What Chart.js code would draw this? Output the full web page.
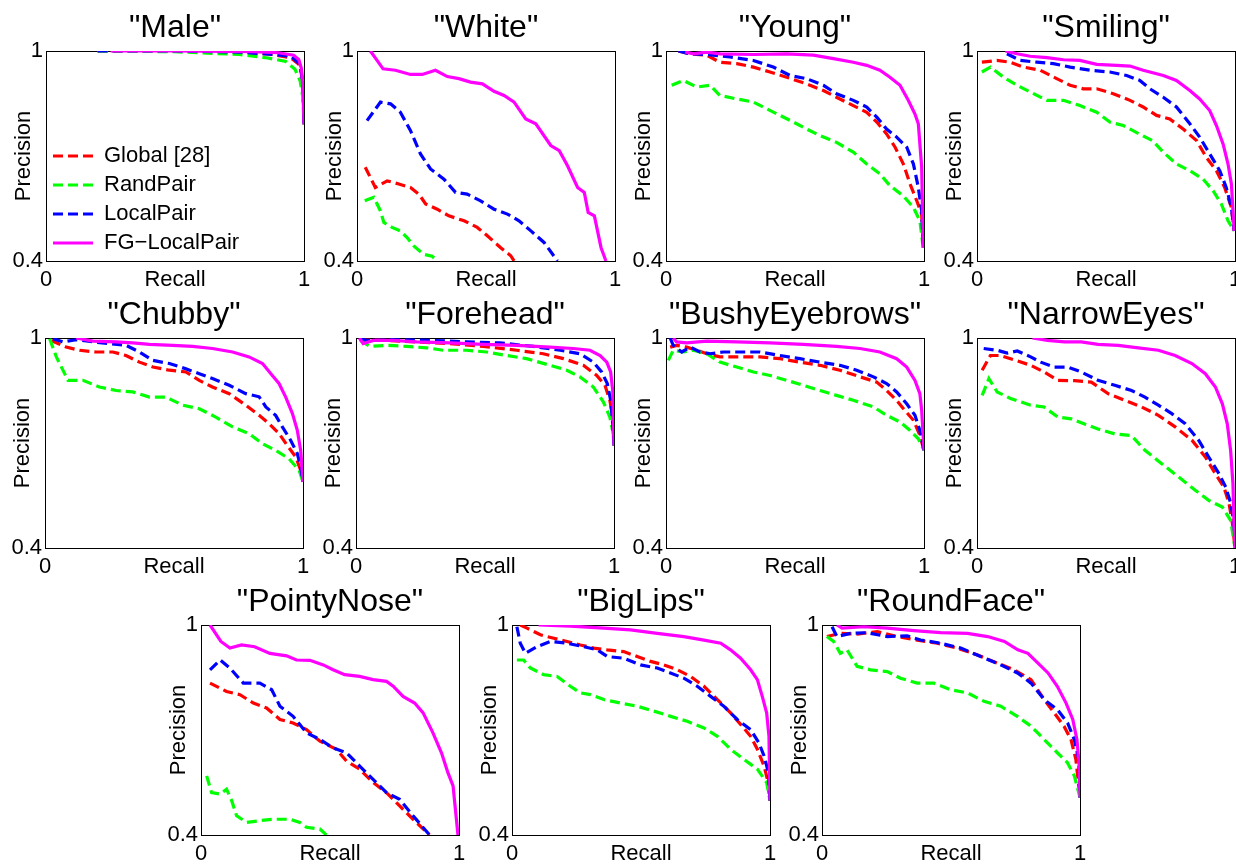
<!DOCTYPE html>
<html>
<head>
<meta charset="utf-8">
<script src="https://cdn.jsdelivr.net/npm/chart.js@4.4.1/dist/chart.umd.min.js"></script>
<style>
html, body { margin: 0; padding: 0; background: #ffffff; }
body { position: relative; width: 1236px; height: 864px; overflow: hidden; }
canvas { position: absolute; }
</style>
</head>
<body>
<script>
// ---------- tick labels & series names ----------
const xTickValues = [0, 1];
const xTickLabels = ['0', '1'];
const yTickValues = [0.4, 1];
const yTickLabels = ['0.4', '1'];
const seriesNames = ['Global [28]', 'RandPair', 'LocalPair', 'FG\u2212LocalPair'];
const panelTitles = ['"Male"', '"White"', '"Young"', '"Smiling"', '"Chubby"', '"Forehead"',
  '"BushyEyebrows"', '"NarrowEyes"', '"PointyNose"', '"BigLips"', '"RoundFace"'];

// ---------- data: [recall, precision] ----------
const maleGlobal = [[0.2,1],[0.5,1],[0.75,0.997],[0.88,0.99],[0.95,0.98],[0.98,0.962],[0.99,0.935],[0.997,0.88],[1,0.79]];
const maleRand   = [[0.2,1],[0.5,0.998],[0.75,0.99],[0.86,0.98],[0.93,0.97],[0.965,0.948],[0.985,0.915],[0.995,0.87],[1,0.79]];
const maleLocal  = [[0.2,1],[0.5,1],[0.75,0.997],[0.88,0.99],[0.95,0.985],[0.98,0.965],[0.99,0.94],[0.997,0.89],[1,0.79]];
const maleFG     = [[0.25,1],[0.5,1],[0.8,0.998],[0.9,0.995],[0.96,0.988],[0.98,0.975],[0.99,0.95],[0.997,0.88],[1,0.79]];

const whiteGlobal = [[0.032,0.668],[0.071,0.61],[0.117,0.629],[0.162,0.62],[0.207,0.61],[0.24,0.591],[0.266,0.563],[0.311,0.548],[0.356,0.529],[0.415,0.515],[0.466,0.496],[0.505,0.472],[0.557,0.438],[0.596,0.415],[0.609,0.4]];
const whiteRand   = [[0.03,0.572],[0.065,0.582],[0.091,0.543],[0.104,0.51],[0.136,0.496],[0.168,0.486],[0.194,0.467],[0.22,0.443],[0.259,0.419],[0.291,0.414],[0.311,0.4]];
const whiteLocal  = [[0.039,0.801],[0.091,0.854],[0.13,0.849],[0.168,0.825],[0.207,0.773],[0.246,0.706],[0.285,0.663],[0.337,0.634],[0.382,0.596],[0.427,0.591],[0.479,0.572],[0.531,0.548],[0.583,0.534],[0.628,0.515],[0.674,0.486],[0.725,0.453],[0.777,0.4]];
const whiteFG     = [[0.052,1],[0.101,0.949],[0.149,0.945],[0.207,0.933],[0.253,0.933],[0.304,0.945],[0.35,0.927],[0.395,0.921],[0.44,0.911],[0.486,0.906],[0.531,0.885],[0.57,0.873],[0.609,0.854],[0.654,0.806],[0.693,0.792],[0.751,0.73],[0.784,0.715],[0.816,0.672],[0.855,0.61],[0.881,0.596],[0.896,0.539],[0.92,0.529],[0.946,0.438],[0.965,0.4]];

const youngGlobal = [[0.048,1],[0.093,0.992],[0.158,0.988],[0.209,0.968],[0.274,0.964],[0.339,0.954],[0.403,0.94],[0.468,0.925],[0.545,0.906],[0.61,0.887],[0.674,0.863],[0.726,0.844],[0.778,0.825],[0.817,0.797],[0.855,0.763],[0.888,0.725],[0.92,0.677],[0.946,0.62],[0.972,0.572],[0.991,0.534],[0.997,0.438]];
const youngRand   = [[0.022,0.902],[0.067,0.916],[0.119,0.897],[0.171,0.902],[0.209,0.873],[0.274,0.863],[0.339,0.854],[0.39,0.835],[0.442,0.816],[0.494,0.797],[0.545,0.777],[0.597,0.758],[0.661,0.739],[0.726,0.711],[0.778,0.677],[0.829,0.649],[0.868,0.615],[0.92,0.586],[0.959,0.553],[0.984,0.515],[0.997,0.438]];
const youngLocal  = [[0.048,1],[0.093,0.992],[0.158,0.99],[0.248,0.983],[0.339,0.973],[0.416,0.954],[0.481,0.93],[0.545,0.921],[0.61,0.902],[0.661,0.878],[0.726,0.859],[0.778,0.84],[0.817,0.811],[0.855,0.777],[0.894,0.754],[0.933,0.725],[0.959,0.677],[0.978,0.61],[0.991,0.543],[0.997,0.438]];
const youngFG     = [[0.074,0.997],[0.106,0.992],[0.158,0.997],[0.21,0.992],[0.339,0.99],[0.468,0.992],[0.571,0.988],[0.649,0.978],[0.726,0.968],[0.778,0.959],[0.829,0.945],[0.868,0.925],[0.907,0.902],[0.939,0.859],[0.965,0.82],[0.978,0.792],[0.991,0.668],[0.997,0.438]];

const smilingGlobal = [[0.019,0.968],[0.077,0.973],[0.129,0.968],[0.18,0.954],[0.245,0.945],[0.309,0.921],[0.361,0.902],[0.412,0.892],[0.464,0.892],[0.528,0.878],[0.593,0.859],[0.644,0.84],[0.696,0.816],[0.747,0.806],[0.799,0.777],[0.851,0.744],[0.889,0.696],[0.928,0.658],[0.96,0.61],[0.986,0.553],[0.997,0.486]];
const smilingRand   = [[0.019,0.94],[0.052,0.954],[0.103,0.925],[0.155,0.902],[0.206,0.883],[0.271,0.859],[0.335,0.859],[0.399,0.844],[0.464,0.825],[0.515,0.797],[0.567,0.787],[0.629,0.763],[0.68,0.744],[0.722,0.711],[0.773,0.677],[0.825,0.658],[0.876,0.634],[0.915,0.601],[0.947,0.563],[0.973,0.515],[0.997,0.486]];
const smilingLocal  = [[0.116,0.992],[0.168,0.973],[0.232,0.968],[0.296,0.964],[0.361,0.954],[0.438,0.945],[0.515,0.94],[0.58,0.93],[0.631,0.916],[0.67,0.892],[0.722,0.868],[0.773,0.84],[0.825,0.792],[0.863,0.754],[0.902,0.706],[0.941,0.658],[0.966,0.61],[0.986,0.553],[0.997,0.486]];
const smilingFG     = [[0.11,1],[0.155,0.992],[0.206,0.985],[0.271,0.981],[0.335,0.975],[0.399,0.973],[0.464,0.962],[0.541,0.959],[0.593,0.957],[0.644,0.945],[0.722,0.93],[0.773,0.916],[0.825,0.887],[0.863,0.863],[0.902,0.83],[0.928,0.787],[0.954,0.734],[0.973,0.677],[0.986,0.62],[0.997,0.486]];

const chubbyGlobal = [[0.024,0.993],[0.082,0.974],[0.134,0.965],[0.198,0.96],[0.263,0.96],[0.314,0.95],[0.366,0.931],[0.418,0.917],[0.482,0.908],[0.546,0.903],[0.598,0.879],[0.649,0.86],[0.714,0.841],[0.778,0.808],[0.83,0.779],[0.869,0.755],[0.907,0.727],[0.939,0.693],[0.972,0.66],[0.991,0.622],[1,0.589]];
const chubbyRand   = [[0.018,0.998],[0.044,0.946],[0.089,0.879],[0.147,0.879],[0.211,0.86],[0.276,0.85],[0.34,0.846],[0.405,0.831],[0.469,0.831],[0.534,0.808],[0.598,0.798],[0.662,0.774],[0.727,0.746],[0.791,0.727],[0.843,0.698],[0.894,0.679],[0.946,0.655],[0.985,0.622],[1,0.589]];
const chubbyLocal  = [[0.031,0.998],[0.07,0.989],[0.121,0.995],[0.186,0.989],[0.25,0.984],[0.314,0.979],[0.366,0.96],[0.418,0.936],[0.482,0.927],[0.546,0.912],[0.598,0.898],[0.649,0.884],[0.714,0.865],[0.778,0.841],[0.83,0.832],[0.856,0.803],[0.894,0.779],[0.92,0.746],[0.952,0.708],[0.978,0.67],[0.991,0.631],[1,0.589]];
const chubbyFG     = [[0.121,1],[0.186,0.991],[0.276,0.989],[0.34,0.986],[0.405,0.982],[0.495,0.979],[0.572,0.976],[0.649,0.97],[0.727,0.96],[0.791,0.946],[0.843,0.927],[0.881,0.893],[0.907,0.87],[0.933,0.831],[0.959,0.784],[0.978,0.736],[0.991,0.679],[1,0.589]];

const foreheadGlobal = [[0.016,0.995],[0.106,0.993],[0.235,0.989],[0.364,0.984],[0.494,0.976],[0.623,0.965],[0.726,0.955],[0.804,0.941],[0.881,0.922],[0.933,0.893],[0.965,0.865],[0.984,0.822],[0.995,0.774],[1,0.693]];
const foreheadRand   = [[0.016,0.993],[0.054,0.976],[0.119,0.979],[0.196,0.976],[0.274,0.972],[0.339,0.965],[0.429,0.965],[0.506,0.96],[0.584,0.95],[0.661,0.941],[0.752,0.922],[0.817,0.908],[0.868,0.889],[0.92,0.86],[0.959,0.817],[0.984,0.774],[0.997,0.726],[1,0.693]];
const foreheadLocal  = [[0.016,0.998],[0.043,0.993],[0.171,0.995],[0.3,0.993],[0.429,0.989],[0.558,0.986],[0.687,0.976],[0.791,0.965],[0.868,0.955],[0.92,0.931],[0.952,0.903],[0.974,0.87],[0.987,0.822],[0.995,0.755],[1,0.693]];
const foreheadFG     = [[0.013,1],[0.028,0.984],[0.067,0.993],[0.145,0.993],[0.235,0.989],[0.364,0.986],[0.494,0.982],[0.623,0.979],[0.752,0.974],[0.842,0.97],[0.907,0.965],[0.946,0.95],[0.972,0.931],[0.987,0.903],[0.995,0.85],[1,0.693]];

const bushyGlobal = [[0.016,0.974],[0.041,0.979],[0.08,0.974],[0.119,0.965],[0.158,0.955],[0.209,0.946],[0.287,0.946],[0.364,0.946],[0.442,0.941],[0.519,0.931],[0.597,0.922],[0.674,0.908],[0.752,0.889],[0.817,0.874],[0.855,0.85],[0.894,0.822],[0.926,0.793],[0.959,0.765],[0.984,0.722],[1,0.679]];
const bushyRand   = [[0.009,0.936],[0.028,0.965],[0.067,0.96],[0.106,0.965],[0.158,0.955],[0.209,0.931],[0.274,0.917],[0.339,0.903],[0.403,0.893],[0.468,0.879],[0.532,0.865],[0.597,0.85],[0.661,0.836],[0.726,0.822],[0.804,0.803],[0.855,0.779],[0.907,0.76],[0.946,0.736],[0.978,0.712],[1,0.679]];
const bushyLocal  = [[0.016,1],[0.028,0.979],[0.061,0.96],[0.093,0.974],[0.132,0.96],[0.171,0.955],[0.222,0.96],[0.287,0.96],[0.364,0.96],[0.442,0.95],[0.519,0.941],[0.597,0.931],[0.674,0.922],[0.739,0.908],[0.804,0.889],[0.855,0.87],[0.894,0.846],[0.933,0.812],[0.965,0.779],[0.984,0.736],[1,0.679]];
const bushyFG     = [[0.028,1],[0.041,0.989],[0.08,0.986],[0.158,0.991],[0.274,0.989],[0.403,0.986],[0.532,0.982],[0.661,0.976],[0.752,0.97],[0.829,0.96],[0.894,0.941],[0.933,0.917],[0.965,0.879],[0.984,0.841],[0.991,0.793],[1,0.679]];

const narrowGlobal = [[0.02,0.908],[0.052,0.95],[0.091,0.95],[0.143,0.938],[0.208,0.922],[0.26,0.903],[0.313,0.879],[0.378,0.878],[0.443,0.874],[0.508,0.841],[0.573,0.822],[0.638,0.803],[0.703,0.779],[0.768,0.746],[0.833,0.708],[0.885,0.66],[0.924,0.612],[0.957,0.574],[0.977,0.527],[0.99,0.47],[1,0.4]];
const narrowRand   = [[0.02,0.836],[0.046,0.884],[0.078,0.846],[0.13,0.827],[0.208,0.808],[0.26,0.803],[0.313,0.774],[0.365,0.769],[0.417,0.754],[0.469,0.74],[0.534,0.726],[0.599,0.721],[0.651,0.679],[0.716,0.641],[0.781,0.603],[0.846,0.565],[0.898,0.536],[0.951,0.517],[0.983,0.479],[1,0.4]];
const narrowLocal  = [[0.026,0.97],[0.078,0.965],[0.117,0.957],[0.156,0.963],[0.208,0.946],[0.247,0.931],[0.299,0.917],[0.352,0.917],[0.404,0.903],[0.469,0.879],[0.534,0.865],[0.599,0.85],[0.651,0.831],[0.703,0.808],[0.755,0.784],[0.807,0.755],[0.859,0.708],[0.898,0.66],[0.938,0.612],[0.964,0.574],[0.984,0.527],[0.996,0.47],[1,0.4]];
const narrowFG     = [[0.215,1],[0.273,0.993],[0.339,0.989],[0.404,0.989],[0.469,0.982],[0.547,0.979],[0.625,0.972],[0.703,0.965],[0.768,0.95],[0.833,0.927],[0.885,0.898],[0.924,0.86],[0.951,0.812],[0.97,0.755],[0.983,0.679],[0.992,0.584],[0.996,0.47],[1,0.4]];

const pointyGlobal = [[0.035,0.834],[0.099,0.81],[0.151,0.801],[0.203,0.777],[0.254,0.763],[0.306,0.73],[0.357,0.72],[0.409,0.701],[0.461,0.668],[0.525,0.645],[0.564,0.611],[0.615,0.588],[0.667,0.55],[0.719,0.521],[0.77,0.483],[0.822,0.445],[0.874,0.408],[0.886,0.4]];
const pointyRand   = [[0.022,0.569],[0.041,0.521],[0.074,0.517],[0.099,0.531],[0.119,0.498],[0.138,0.455],[0.177,0.436],[0.228,0.441],[0.28,0.445],[0.345,0.445],[0.383,0.436],[0.409,0.422],[0.461,0.417],[0.486,0.4]];
const pointyLocal  = [[0.035,0.872],[0.074,0.9],[0.112,0.877],[0.164,0.834],[0.228,0.834],[0.274,0.815],[0.306,0.768],[0.357,0.739],[0.409,0.692],[0.461,0.673],[0.512,0.649],[0.564,0.635],[0.615,0.597],[0.667,0.559],[0.719,0.521],[0.77,0.502],[0.822,0.455],[0.886,0.4]];
const pointyFG     = [[0.035,1],[0.077,0.953],[0.112,0.934],[0.157,0.943],[0.208,0.938],[0.267,0.919],[0.332,0.912],[0.37,0.9],[0.422,0.899],[0.474,0.886],[0.512,0.872],[0.557,0.858],[0.615,0.853],[0.667,0.844],[0.719,0.839],[0.745,0.825],[0.783,0.796],[0.828,0.777],[0.861,0.749],[0.899,0.692],[0.932,0.635],[0.957,0.578],[0.977,0.54],[0.996,0.4]];

const bigGlobal = [[0.032,1],[0.058,0.991],[0.11,0.972],[0.162,0.962],[0.213,0.953],[0.265,0.943],[0.317,0.934],[0.369,0.929],[0.433,0.924],[0.485,0.91],[0.537,0.896],[0.589,0.886],[0.641,0.872],[0.692,0.853],[0.744,0.825],[0.796,0.787],[0.847,0.749],[0.886,0.716],[0.925,0.682],[0.951,0.645],[0.977,0.597],[0.99,0.559],[1,0.498]];
const bigRand   = [[0.019,0.9],[0.045,0.9],[0.071,0.877],[0.123,0.858],[0.175,0.853],[0.226,0.825],[0.265,0.806],[0.304,0.801],[0.356,0.787],[0.42,0.777],[0.485,0.768],[0.55,0.754],[0.615,0.739],[0.679,0.725],[0.744,0.706],[0.796,0.682],[0.847,0.645],[0.899,0.616],[0.951,0.588],[0.987,0.55],[1,0.498]];
const bigLocal  = [[0.019,0.995],[0.032,0.948],[0.052,0.919],[0.097,0.938],[0.149,0.953],[0.213,0.948],[0.278,0.938],[0.33,0.929],[0.369,0.91],[0.433,0.905],[0.498,0.886],[0.563,0.877],[0.614,0.863],[0.666,0.848],[0.718,0.825],[0.77,0.796],[0.821,0.768],[0.873,0.73],[0.925,0.701],[0.957,0.663],[0.977,0.626],[0.994,0.578],[1,0.498]];
const bigFG     = [[0.103,1],[0.226,0.997],[0.356,0.991],[0.459,0.986],[0.563,0.976],[0.666,0.967],[0.744,0.957],[0.809,0.948],[0.847,0.929],[0.886,0.905],[0.925,0.872],[0.951,0.844],[0.97,0.796],[0.987,0.749],[0.996,0.682],[1,0.498]];

const roundGlobal = [[0.019,0.967],[0.071,0.976],[0.136,0.974],[0.214,0.981],[0.291,0.967],[0.369,0.957],[0.447,0.948],[0.524,0.934],[0.601,0.915],[0.679,0.891],[0.745,0.872],[0.81,0.844],[0.861,0.787],[0.9,0.749],[0.938,0.711],[0.965,0.673],[0.984,0.616],[1,0.507]];
const roundRand   = [[0.019,0.967],[0.045,0.953],[0.071,0.919],[0.097,0.929],[0.136,0.882],[0.188,0.872],[0.253,0.867],[0.304,0.848],[0.369,0.834],[0.434,0.834],[0.499,0.815],[0.564,0.806],[0.628,0.782],[0.693,0.768],[0.757,0.739],[0.81,0.711],[0.861,0.673],[0.912,0.635],[0.951,0.607],[0.978,0.569],[1,0.507]];
const roundLocal  = [[0.039,0.995],[0.058,0.967],[0.11,0.976],[0.175,0.978],[0.253,0.967],[0.33,0.969],[0.382,0.957],[0.46,0.948],[0.538,0.934],[0.615,0.91],[0.693,0.886],[0.758,0.863],[0.81,0.834],[0.861,0.787],[0.913,0.758],[0.952,0.72],[0.978,0.673],[0.995,0.616],[1,0.507]];
const roundFG     = [[0.058,1],[0.078,0.991],[0.162,0.995],[0.253,0.991],[0.356,0.984],[0.46,0.978],[0.564,0.976],[0.642,0.967],[0.707,0.953],[0.759,0.929],[0.798,0.919],[0.837,0.891],[0.876,0.863],[0.912,0.825],[0.946,0.777],[0.972,0.73],[0.988,0.673],[0.997,0.597],[1,0.507]];

// ---------- styling ----------
const seriesColors = ['#ff0000', '#00ff00', '#0000ff', '#ff00ff'];
const seriesDash = [[10, 5], [10, 5], [10, 5], []];
const FONT = "'Liberation Sans', Arial, Helvetica, sans-serif";

Chart.defaults.font.family = FONT;
Chart.defaults.color = '#000000';

// panel placement: plot-area top-left corner in the page
const panels = [
  { title: panelTitles[0], series: [maleGlobal, maleRand, maleLocal, maleFG], px: 46, py: 51, legend: true },
  { title: panelTitles[1], series: [whiteGlobal, whiteRand, whiteLocal, whiteFG], px: 357, py: 51 },
  { title: panelTitles[2], series: [youngGlobal, youngRand, youngLocal, youngFG], px: 666, py: 51 },
  { title: panelTitles[3], series: [smilingGlobal, smilingRand, smilingLocal, smilingFG], px: 977, py: 51 },
  { title: panelTitles[4], series: [chubbyGlobal, chubbyRand, chubbyLocal, chubbyFG], px: 45, py: 338 },
  { title: panelTitles[5], series: [foreheadGlobal, foreheadRand, foreheadLocal, foreheadFG], px: 356, py: 338 },
  { title: panelTitles[6], series: [bushyGlobal, bushyRand, bushyLocal, bushyFG], px: 666, py: 338 },
  { title: panelTitles[7], series: [narrowGlobal, narrowRand, narrowLocal, narrowFG], px: 977, py: 338 },
  { title: panelTitles[8], series: [pointyGlobal, pointyRand, pointyLocal, pointyFG], px: 201, py: 625 },
  { title: panelTitles[9], series: [bigGlobal, bigRand, bigLocal, bigFG], px: 512, py: 625 },
  { title: panelTitles[10], series: [roundGlobal, roundRand, roundLocal, roundFG], px: 822, py: 625 }
];

const AX_W = 46;      // left/right axis band width
const TOP_H = 51;     // title band height
const BOT_H = 32;     // bottom axis band height
const PLOT_W = 258;
const PLOT_H = 210;
const CW = AX_W * 2 + PLOT_W;
const CH = TOP_H + PLOT_H + BOT_H;

// keep the chartArea legend inside the plot area
const legendFix = {
  id: 'legendFix',
  afterLayout(chart) {
    const lg = chart.legend;
    if (lg && lg.options.display && lg.options.position === 'chartArea') {
      const ca = chart.chartArea;
      if (lg.top !== ca.top) {
        lg.top = ca.top; lg.bottom = ca.bottom; lg.height = ca.bottom - ca.top;
        lg.left = ca.left; lg.right = ca.right; lg.width = ca.right - ca.left;
        if (lg.adjustHitBoxes) lg.adjustHitBoxes();
      }
    }
  }
};

panels.forEach((p) => {
  const cv = document.createElement('canvas');
  cv.width = CW; cv.height = CH;
  cv.style.width = CW + 'px'; cv.style.height = CH + 'px';
  cv.style.left = (p.px - AX_W) + 'px';
  cv.style.top = (p.py - TOP_H) + 'px';
  document.body.appendChild(cv);

  // reverse order so that FG-LocalPair is drawn on top (as in the original)
  const datasets = [3, 2, 1, 0].map((k) => ({
    label: seriesNames[k],
    data: p.series[k].map(([x, y]) => ({ x: x, y: y })),
    borderColor: seriesColors[k],
    backgroundColor: seriesColors[k],
    borderWidth: 3.2,
    borderDash: seriesDash[k],
    pointRadius: 0,
    pointHoverRadius: 0,
    fill: false,
    tension: 0
  }));

  const legendOpts = p.legend ? {
    display: true,
    position: 'chartArea',
    align: 'end',
    labels: {
      usePointStyle: true,
      pointStyle: 'line',
      pointStyleWidth: 40,
      boxHeight: 22,
      padding: 7,
      color: '#000',
      font: { size: 22 },
      generateLabels: (chart) => chart.data.datasets.map((d, i) => ({
        text: d.label,
        fillStyle: d.borderColor,
        strokeStyle: d.borderColor,
        lineWidth: d.borderWidth,
        lineDash: d.borderDash,
        lineCap: 'butt',
        pointStyle: 'line',
        hidden: false,
        fontColor: '#000',
        datasetIndex: i
      })).reverse()
    }
  } : { display: false };

  new Chart(cv, {
    type: 'line',
    data: { datasets: datasets },
    options: {
      responsive: false,
      maintainAspectRatio: false,
      animation: false,
      devicePixelRatio: 1,
      events: [],
      layout: { padding: 0 },
      plugins: {
        tooltip: { enabled: false },
        title: {
          display: true,
          text: p.title,
          color: '#000',
          font: { size: 32, weight: 'normal' },
          padding: { top: 9.3, bottom: 3.3 }
        },
        legend: legendOpts
      },
      scales: {
        x: {
          type: 'linear', position: 'bottom', min: 0, max: 1,
          afterBuildTicks: (s) => { s.ticks = xTickValues.map((v) => ({ value: v })); },
          afterFit: (s) => { s.height = BOT_H; },
          ticks: { padding: 6, autoSkip: false, maxRotation: 0, font: { size: 22 }, color: '#000',
                   callback: (v, i) => xTickLabels[i] },
          grid: { display: false, drawTicks: false },
          border: { display: true, color: '#000', width: 1 },
          title: { display: true, text: 'Recall', color: '#000', font: { size: 22 }, padding: { top: 0, bottom: 0 } }
        },
        y: {
          type: 'linear', position: 'left', min: 0.4, max: 1,
          afterBuildTicks: (s) => { s.ticks = yTickValues.map((v) => ({ value: v })); },
          afterFit: (s) => { s.width = AX_W; },
          ticks: { padding: 3, autoSkip: false, font: { size: 22 }, color: '#000',
                   callback: (v, i) => yTickLabels[i] },
          grid: { display: false, drawTicks: false },
          border: { display: true, color: '#000', width: 1 },
          title: { display: true, text: 'Precision', color: '#000', font: { size: 22 }, padding: { top: 11, bottom: 0 } }
        },
        x2: {
          type: 'linear', position: 'top', min: 0, max: 1,
          afterFit: (s) => { s.height = 0; },
          ticks: { display: false },
          grid: { display: false, drawTicks: false },
          border: { display: true, color: '#000', width: 1 }
        },
        y2: {
          type: 'linear', position: 'right', min: 0.4, max: 1,
          afterFit: (s) => { s.width = AX_W; },
          ticks: { display: false },
          grid: { display: false, drawTicks: false },
          border: { display: true, color: '#000', width: 1 }
        }
      }
    },
    plugins: [legendFix]
  });
});
</script>
</body>
</html>
